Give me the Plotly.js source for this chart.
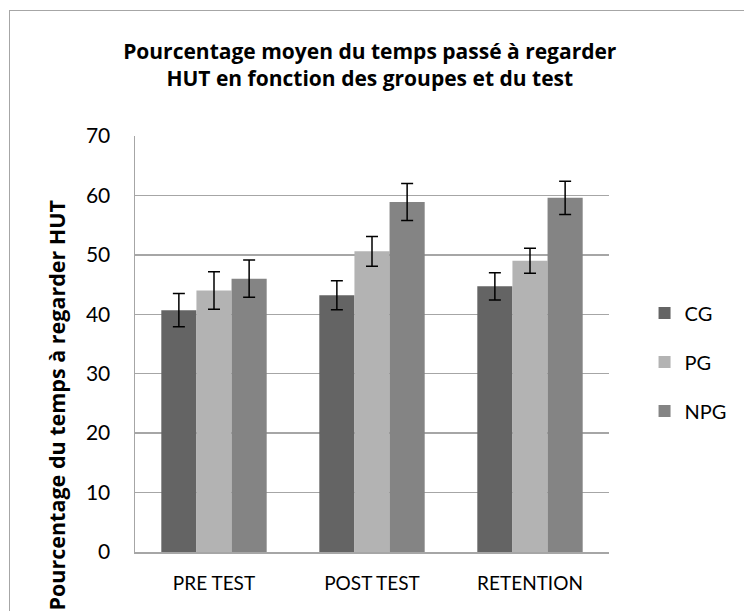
<!DOCTYPE html>
<html>
<head>
<meta charset="utf-8">
<script src="https://cdn.plot.ly/plotly-3.0.1.min.js"></script>
<style>
  html, body { margin: 0; padding: 0; background: #ffffff; overflow: hidden; }
  #frame { position: absolute; left: 9px; top: 10px; width: 800px; height: 700px; border: 1.5px solid #a6a6a6; box-sizing: border-box; }
  #chart { position: absolute; left: 0; top: 0; width: 744px; height: 611px; }
</style>
</head>
<body>
<div id="frame"></div>
<div id="chart"></div>
<script>
const categories = ["PRE TEST", "POST TEST", "RETENTION"];
const groups = ["CG", "PG", "NPG"];
const cgValues = [40.7, 43.2, 44.7];
const pgValues = [44.0, 50.6, 49.0];
const npgValues = [46.0, 58.9, 59.6];
const cgErrors = [2.8, 2.45, 2.3];
const pgErrors = [3.15, 2.5, 2.1];
const npgErrors = [3.15, 3.1, 2.8];
const yTicks = [0, 10, 20, 30, 40, 50, 60, 70];

const colors = ["#646464", "#b3b3b3", "#848484"];
const valueSets = [cgValues, pgValues, npgValues];
const errorSets = [cgErrors, pgErrors, npgErrors];
const fontFam = "Lato, 'Open Sans', sans-serif";
const boldFam = "'Open Sans', Lato, sans-serif";

const traces = groups.map((g, i) => ({
  type: "bar",
  name: g,
  x: categories,
  y: valueSets[i],
  legendgroup: g,
  marker: { color: colors[i], line: { width: 0 } },
  error_y: { type: "data", array: errorSets[i], visible: true, color: "#000000", thickness: 1.5, width: 6 },
  hoverinfo: "skip"
}));

const layout = {
  width: 744,
  height: 611,
  paper_bgcolor: "rgba(0,0,0,0)",
  plot_bgcolor: "rgba(0,0,0,0)",
  margin: { l: 135, r: 127, t: 136, b: 59 },
  barmode: "group",
  bargap: 0.333,
  bargroupgap: 0,
  showlegend: true,
  font: { family: fontFam, color: "#000000" },
  title: {
    text: "<b>Pourcentage moyen du temps passé à regarder<br>HUT en fonction des groupes et du test</b>",
    font: { family: boldFam, size: 21, color: "#000000" },
    x: 0.497, xanchor: "center",
    y: 0.904, yanchor: "middle"
  },
  xaxis: {
    type: "category",
    showgrid: false,
    showline: true,
    linecolor: "#a6a6a6",
    linewidth: 1.5,
    ticks: "",
    ticklabelstandoff: 14,
    tickfont: { family: fontFam, size: 19, color: "#000000" },
    zeroline: false
  },
  yaxis: {
    range: [0, 70],
    tickvals: yTicks,
    ticktext: yTicks.map(String),
    showgrid: true,
    gridcolor: "#a6a6a6",
    gridwidth: 1.5,
    showline: true,
    linecolor: "#a6a6a6",
    linewidth: 1.5,
    ticks: "",
    ticklabelstandoff: 19,
    tickfont: { family: fontFam, size: 21, color: "#000000" },
    zeroline: false
  },
  legend: {
    x: 1.075, xanchor: "left",
    y: 0.457, yanchor: "middle",
    font: { family: fontFam, size: 20, color: "#000000" },
    tracegroupgap: 20,
    traceorder: "grouped",
    itemwidth: 30,
    bgcolor: "rgba(0,0,0,0)"
  },
  annotations: [{
    text: "<b>Pourcentage du temps à regarder HUT</b>",
    textangle: -90,
    xref: "paper", yref: "paper",
    x: -0.166, y: 0.353,
    xanchor: "center", yanchor: "middle",
    showarrow: false,
    font: { family: boldFam, size: 21.5, color: "#000000" }
  }]
};

Plotly.newPlot("chart", traces, layout, { displayModeBar: false, staticPlot: true });
</script>
</body>
</html>
